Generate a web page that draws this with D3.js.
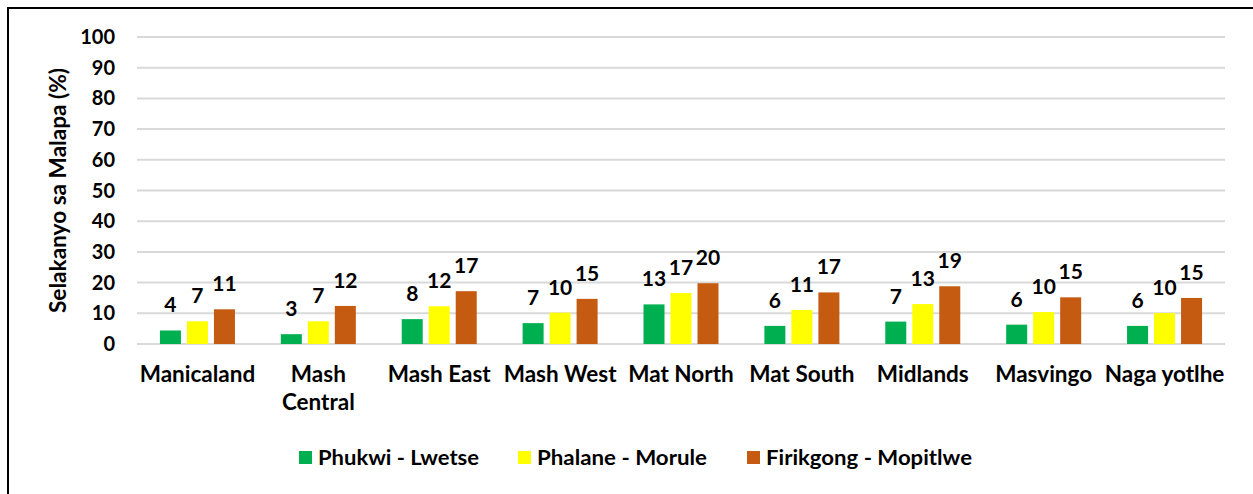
<!DOCTYPE html>
<html>
<head>
<meta charset="utf-8">
<script src="https://cdn.jsdelivr.net/npm/d3@7"></script>
<style>
  body { margin: 0; background: #fff; }
  svg text { font-family: Lato, "Open Sans", sans-serif; font-weight: bold; fill: #000; }
</style>
</head>
<body>
<div id="chart"></div>
<script>
var w = 1253;
var h = 494;

// categories (line breaks as shown in the original axis)
var regions = ["Manicaland", "Mash\nCentral", "Mash East", "Mash West", "Mat North",
               "Mat South", "Midlands", "Masvingo", "Naga yotlhe"];
var seriesNames = ["Phukwi - Lwetse", "Phalane - Morule", "Firikgong - Mopitlwe"];
var phukwi  = [4.4, 3.2, 8.1, 6.8, 12.9, 5.9, 7.3, 6.3, 5.9];
var phalane = [7.4, 7.4, 12.3, 10.2, 16.6, 11.1, 13.0, 10.4, 10.1];
var firik   = [11.3, 12.4, 17.2, 14.7, 19.8, 16.8, 18.8, 15.2, 15.0];
var yTicks = [0, 10, 20, 30, 40, 50, 60, 70, 80, 90, 100];
var colors = ["#00b050", "#ffff00", "#c55a11"];

var plot = {left: 137, right: 1225, top: 37, bottom: 344};

var svg = d3.select("#chart")
            .append("svg")
            .attr("width", w)
            .attr("height", h);

// chart frame (only top and left edges show in the picture)
svg.append("rect")
   .attr("x", 8).attr("y", 8)
   .attr("width", w).attr("height", h)
   .attr("fill", "none")
   .attr("stroke", "#000")
   .attr("stroke-width", 2);

var x = d3.scaleBand()
          .domain(regions)
          .range([plot.left, plot.right]);

var y = d3.scaleLinear()
          .domain([0, 100])
          .range([plot.bottom, plot.top]);

var series = [phukwi, phalane, firik];
var barW = 21, barGap = 6;
var xSub = d3.scaleBand()
             .domain([0, 1, 2])
             .range([0, 3 * barW + 2 * barGap])
             .paddingInner(barGap / (barW + barGap));

// gridlines
svg.append("g")
   .selectAll("line")
   .data(yTicks)
   .enter()
   .append("line")
   .attr("x1", plot.left)
   .attr("x2", plot.right)
   .attr("y1", function(d) { return y(d); })
   .attr("y2", function(d) { return y(d); })
   .attr("stroke", "#d9d9d9")
   .attr("stroke-width", 2);

// y tick labels
svg.append("g")
   .selectAll("text")
   .data(yTicks)
   .enter()
   .append("text")
   .attr("x", 115)
   .attr("y", function(d) { return y(d); })
   .attr("dy", "0.35em")
   .attr("text-anchor", "end")
   .style("font-size", "20px")
   .text(function(d) { return d; });

// y axis title
svg.append("text")
   .attr("transform", "translate(66," + ((plot.top + plot.bottom) / 2) + ") rotate(-90)")
   .attr("text-anchor", "middle")
   .style("font-size", "22px")
   .attr("textLength", 245)
   .attr("lengthAdjust", "spacingAndGlyphs")
   .text("Selakanyo sa Malapa (%)");

// bars + labels
series.forEach(function(vals, s) {
  var g = svg.append("g").attr("class", "series-" + s);
  var groupOffset = function(i) {
    return x(regions[i]) + x.bandwidth() / 2 - xSub.range()[1] / 2 + xSub(s);
  };
  g.selectAll("rect")
   .data(vals)
   .enter()
   .append("rect")
   .attr("x", function(d, i) { return groupOffset(i); })
   .attr("y", function(d) { return y(d); })
   .attr("width", xSub.bandwidth())
   .attr("height", function(d) { return y(0) - y(d); })
   .attr("fill", colors[s]);

  g.selectAll("text")
   .data(vals)
   .enter()
   .append("text")
   .attr("x", function(d, i) { return groupOffset(i) + xSub.bandwidth() / 2; })
   .attr("y", function(d) { return y(d) - 18; })
   .attr("text-anchor", "middle")
   .style("font-size", "21px")
   .text(function(d) { return d3.format(".0f")(d); });
});

// category labels
var cat = svg.append("g")
             .selectAll("text")
             .data(regions)
             .enter()
             .append("text")
             .attr("text-anchor", "middle")
             .style("font-size", "22.5px")
             .attr("transform", function(d) { return "translate(" + (x(d) + x.bandwidth() / 2) + ",382)"; });
cat.selectAll("tspan")
   .data(function(d) { return d.split("\n"); })
   .enter()
   .append("tspan")
   .attr("x", 0)
   .attr("dy", function(d, i) { return i == 0 ? 0 : 28; })
   .text(function(d) { return d; });

// legend
var legendX = [299, 518, 747];
var legendEnd = [479, 707, 972];
var legend = svg.append("g")
                .selectAll("g")
                .data(seriesNames)
                .enter()
                .append("g")
                .attr("transform", function(d, i) { return "translate(" + legendX[i] + ",451)"; });
legend.append("rect")
      .attr("width", 13)
      .attr("height", 13)
      .attr("fill", function(d, i) { return colors[i]; });
legend.append("text")
      .attr("x", 19)
      .attr("y", 14)
      .style("font-size", "20px")
      .attr("textLength", function(d, i) { return legendEnd[i] - legendX[i] - 19; })
      .attr("lengthAdjust", "spacingAndGlyphs")
      .text(function(d) { return d; });
</script>
</body>
</html>
